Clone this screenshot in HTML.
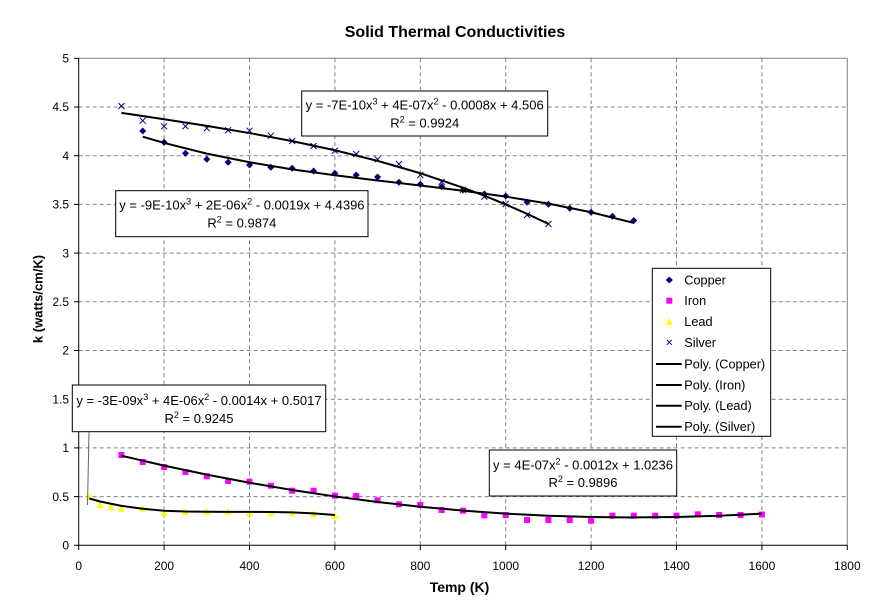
<!DOCTYPE html>
<html>
<head>
<meta charset="utf-8">
<style>
html,body{margin:0;padding:0;background:#fff;}
svg{display:block;}
text{font-family:"Liberation Sans",Arial,sans-serif;fill:#000;}
</style>
</head>
<body>
<svg width="888" height="609" viewBox="0 0 888 609" xmlns="http://www.w3.org/2000/svg">
<rect x="0" y="0" width="888" height="609" fill="#fff"/>
<!-- title -->
<text x="455" y="37" font-size="16" font-weight="bold" text-anchor="middle">Solid Thermal Conductivities</text>

<!-- gridlines -->
<g stroke="#808080" stroke-width="1" stroke-dasharray="4,3" fill="none">
<line x1="164.1" y1="58.3" x2="164.1" y2="545.3"/>
<line x1="249.5" y1="58.3" x2="249.5" y2="545.3"/>
<line x1="334.9" y1="58.3" x2="334.9" y2="545.3"/>
<line x1="420.3" y1="58.3" x2="420.3" y2="545.3"/>
<line x1="505.7" y1="58.3" x2="505.7" y2="545.3"/>
<line x1="591.1" y1="58.3" x2="591.1" y2="545.3"/>
<line x1="676.5" y1="58.3" x2="676.5" y2="545.3"/>
<line x1="761.9" y1="58.3" x2="761.9" y2="545.3"/>
<line x1="78.7" y1="496.6" x2="847.3" y2="496.6"/>
<line x1="78.7" y1="447.9" x2="847.3" y2="447.9"/>
<line x1="78.7" y1="399.2" x2="847.3" y2="399.2"/>
<line x1="78.7" y1="350.5" x2="847.3" y2="350.5"/>
<line x1="78.7" y1="301.8" x2="847.3" y2="301.8"/>
<line x1="78.7" y1="253.1" x2="847.3" y2="253.1"/>
<line x1="78.7" y1="204.4" x2="847.3" y2="204.4"/>
<line x1="78.7" y1="155.7" x2="847.3" y2="155.7"/>
<line x1="78.7" y1="107.0" x2="847.3" y2="107.0"/>
</g>
<!-- plot border -->
<line x1="78.7" y1="58.3" x2="847.3" y2="58.3" stroke="#808080" stroke-width="1"/>
<line x1="847.3" y1="58.3" x2="847.3" y2="545.3" stroke="#808080" stroke-width="1"/>
<!-- axes -->
<line x1="78.7" y1="58.3" x2="78.7" y2="545.3" stroke="#000" stroke-width="1"/>
<line x1="78.7" y1="545.3" x2="847.3" y2="545.3" stroke="#000" stroke-width="1"/>
<!-- ticks -->
<g stroke="#000" stroke-width="1">
<line x1="74" y1="545.3" x2="78.7" y2="545.3"/>
<line x1="74" y1="496.6" x2="78.7" y2="496.6"/>
<line x1="74" y1="447.9" x2="78.7" y2="447.9"/>
<line x1="74" y1="399.2" x2="78.7" y2="399.2"/>
<line x1="74" y1="350.5" x2="78.7" y2="350.5"/>
<line x1="74" y1="301.8" x2="78.7" y2="301.8"/>
<line x1="74" y1="253.1" x2="78.7" y2="253.1"/>
<line x1="74" y1="204.4" x2="78.7" y2="204.4"/>
<line x1="74" y1="155.7" x2="78.7" y2="155.7"/>
<line x1="74" y1="107.0" x2="78.7" y2="107.0"/>
<line x1="74" y1="58.3" x2="78.7" y2="58.3"/>
<line x1="78.7" y1="545.3" x2="78.7" y2="550"/>
<line x1="164.1" y1="545.3" x2="164.1" y2="550"/>
<line x1="249.5" y1="545.3" x2="249.5" y2="550"/>
<line x1="334.9" y1="545.3" x2="334.9" y2="550"/>
<line x1="420.3" y1="545.3" x2="420.3" y2="550"/>
<line x1="505.7" y1="545.3" x2="505.7" y2="550"/>
<line x1="591.1" y1="545.3" x2="591.1" y2="550"/>
<line x1="676.5" y1="545.3" x2="676.5" y2="550"/>
<line x1="761.9" y1="545.3" x2="761.9" y2="550"/>
<line x1="847.3" y1="545.3" x2="847.3" y2="550"/>
</g>
<!-- y tick labels -->
<g font-size="12" text-anchor="end">
<text x="69" y="549.5">0</text>
<text x="69" y="500.8">0.5</text>
<text x="69" y="452.1">1</text>
<text x="69" y="403.4">1.5</text>
<text x="69" y="354.7">2</text>
<text x="69" y="306">2.5</text>
<text x="69" y="257.3">3</text>
<text x="69" y="208.6">3.5</text>
<text x="69" y="159.9">4</text>
<text x="69" y="111.2">4.5</text>
<text x="69" y="62.5">5</text>
</g>
<!-- x tick labels -->
<g font-size="12" text-anchor="middle">
<text x="78.7" y="570">0</text>
<text x="164.1" y="570">200</text>
<text x="249.5" y="570">400</text>
<text x="334.9" y="570">600</text>
<text x="420.3" y="570">800</text>
<text x="505.7" y="570">1000</text>
<text x="591.1" y="570">1200</text>
<text x="676.5" y="570">1400</text>
<text x="761.9" y="570">1600</text>
<text x="847.3" y="570">1800</text>
</g>
<!-- axis titles -->
<text x="459.5" y="592" font-size="14" font-weight="bold" text-anchor="middle">Temp (K)</text>
<text transform="translate(42.5,299) rotate(-90)" font-size="13" font-weight="bold" text-anchor="middle">k (watts/cm/K)</text>

<!-- Copper markers -->
<g fill="#000080">
<path d="M142.75 127.5l3.5 3.5-3.5 3.5-3.5-3.5z"/>
<path d="M164.1 138.8l3.5 3.5-3.5 3.5-3.5-3.5z"/>
<path d="M185.45 149.8l3.5 3.5-3.5 3.5-3.5-3.5z"/>
<path d="M206.8 155.8l3.5 3.5-3.5 3.5-3.5-3.5z"/>
<path d="M228.15 158.8l3.5 3.5-3.5 3.5-3.5-3.5z"/>
<path d="M249.5 161.5l3.5 3.5-3.5 3.5-3.5-3.5z"/>
<path d="M270.85 163.8l3.5 3.5-3.5 3.5-3.5-3.5z"/>
<path d="M292.2 164.8l3.5 3.5-3.5 3.5-3.5-3.5z"/>
<path d="M313.55 167.5l3.5 3.5-3.5 3.5-3.5-3.5z"/>
<path d="M334.9 169.8l3.5 3.5-3.5 3.5-3.5-3.5z"/>
<path d="M356.25 171.5l3.5 3.5-3.5 3.5-3.5-3.5z"/>
<path d="M377.6 173.5l3.5 3.5-3.5 3.5-3.5-3.5z"/>
<path d="M398.95 178.8l3.5 3.5-3.5 3.5-3.5-3.5z"/>
<path d="M420.3 180.8l3.5 3.5-3.5 3.5-3.5-3.5z"/>
<path d="M441.65 183.2l3.5 3.5-3.5 3.5-3.5-3.5z"/>
<path d="M463 186.5l3.5 3.5-3.5 3.5-3.5-3.5z"/>
<path d="M484.35 190.5l3.5 3.5-3.5 3.5-3.5-3.5z"/>
<path d="M505.7 192.5l3.5 3.5-3.5 3.5-3.5-3.5z"/>
<path d="M527.05 198.8l3.5 3.5-3.5 3.5-3.5-3.5z"/>
<path d="M548.4 200.8l3.5 3.5-3.5 3.5-3.5-3.5z"/>
<path d="M569.75 204.8l3.5 3.5-3.5 3.5-3.5-3.5z"/>
<path d="M591.1 208.8l3.5 3.5-3.5 3.5-3.5-3.5z"/>
<path d="M612.45 212.8l3.5 3.5-3.5 3.5-3.5-3.5z"/>
<path d="M633.8 217l3.5 3.5-3.5 3.5-3.5-3.5z"/>
</g>
<!-- Silver markers -->
<g stroke="#000080" stroke-width="1" fill="none">
<path d="M118.4 103l6 6M124.4 103l-6 6"/>
<path d="M139.75 117.7l6 6M145.75 117.7l-6 6"/>
<path d="M161.1 123.3l6 6M167.1 123.3l-6 6"/>
<path d="M182.45 123.3l6 6M188.45 123.3l-6 6"/>
<path d="M203.8 125.3l6 6M209.8 125.3l-6 6"/>
<path d="M225.15 127.3l6 6M231.15 127.3l-6 6"/>
<path d="M246.5 127.7l6 6M252.5 127.7l-6 6"/>
<path d="M267.85 132.7l6 6M273.85 132.7l-6 6"/>
<path d="M289.2 138l6 6M295.2 138l-6 6"/>
<path d="M310.55 143l6 6M316.55 143l-6 6"/>
<path d="M331.9 147.7l6 6M337.9 147.7l-6 6"/>
<path d="M353.25 151l6 6M359.25 151l-6 6"/>
<path d="M374.6 156.3l6 6M380.6 156.3l-6 6"/>
<path d="M395.95 161l6 6M401.95 161l-6 6"/>
<path d="M417.3 172l6 6M423.3 172l-6 6"/>
<path d="M438.65 179l6 6M444.65 179l-6 6"/>
<path d="M460 186.8l6 6M466 186.8l-6 6"/>
<path d="M481.35 193.6l6 6M487.35 193.6l-6 6"/>
<path d="M502.7 201l6 6M508.7 201l-6 6"/>
<path d="M524.05 212l6 6M530.05 212l-6 6"/>
<path d="M545.4 221l6 6M551.4 221l-6 6"/>
</g>
<!-- Iron markers -->
<g fill="#FF00FF">
<rect x="118.4" y="452" width="6" height="6"/>
<rect x="139.75" y="459" width="6" height="6"/>
<rect x="161.1" y="464" width="6" height="6"/>
<rect x="182.45" y="469" width="6" height="6"/>
<rect x="203.8" y="473.3" width="6" height="6"/>
<rect x="225.15" y="478" width="6" height="6"/>
<rect x="246.5" y="478.7" width="6" height="6"/>
<rect x="267.85" y="482.7" width="6" height="6"/>
<rect x="289.2" y="487.7" width="6" height="6"/>
<rect x="310.55" y="487.7" width="6" height="6"/>
<rect x="331.9" y="492.7" width="6" height="6"/>
<rect x="353.25" y="493" width="6" height="6"/>
<rect x="374.6" y="497.3" width="6" height="6"/>
<rect x="395.95" y="501.3" width="6" height="6"/>
<rect x="417.3" y="502" width="6" height="6"/>
<rect x="438.65" y="507" width="6" height="6"/>
<rect x="460" y="507.7" width="6" height="6"/>
<rect x="481.35" y="512.3" width="6" height="6"/>
<rect x="502.7" y="512" width="6" height="6"/>
<rect x="524.05" y="517" width="6" height="6"/>
<rect x="545.4" y="517" width="6" height="6"/>
<rect x="566.75" y="517" width="6" height="6"/>
<rect x="588.1" y="517.7" width="6" height="6"/>
<rect x="609.45" y="512.7" width="6" height="6"/>
<rect x="630.8" y="512.7" width="6" height="6"/>
<rect x="652.15" y="512.7" width="6" height="6"/>
<rect x="673.5" y="512.7" width="6" height="6"/>
<rect x="694.85" y="511.3" width="6" height="6"/>
<rect x="716.2" y="512" width="6" height="6"/>
<rect x="737.55" y="512" width="6" height="6"/>
<rect x="758.9" y="511.5" width="6" height="6"/>
</g>
<!-- Lead markers -->
<g fill="#FFFF00">
<path d="M89.4 492.7l3.5 7h-7z"/>
<path d="M100.05 501l3.5 7h-7z"/>
<path d="M110.7 502.7l3.5 7h-7z"/>
<path d="M121.4 504.7l3.5 7h-7z"/>
<path d="M142.75 504.7l3.5 7h-7z"/>
<path d="M164.1 508.7l3.5 7h-7z"/>
<path d="M185.45 507.7l3.5 7h-7z"/>
<path d="M206.8 507.7l3.5 7h-7z"/>
<path d="M228.15 507.7l3.5 7h-7z"/>
<path d="M249.5 509l3.5 7h-7z"/>
<path d="M270.85 509.3l3.5 7h-7z"/>
<path d="M292.2 509.3l3.5 7h-7z"/>
<path d="M313.55 510.3l3.5 7h-7z"/>
<path d="M334.9 512l3.5 7h-7z"/>
</g>

<!-- trendlines -->
<g stroke="#000" stroke-width="2" fill="none" stroke-linejoin="round">
<polyline points="142.75,136.71 164.1,142.96 206.8,153.64 249.5,162.28 292.2,169.34 334.9,175.25 377.6,180.48 420.3,185.5 463,190.71 505.7,196.61 548.4,203.64 591.1,212.25 633.8,222.91"/>
<polyline points="121.4,112.84 164.1,119.25 206.8,125.9 249.5,133.07 292.2,141.09 334.9,150.26 377.6,160.86 420.3,173.23 463,187.65 484.35,195.73 505.7,204.44 527.05,213.81 548.4,223.88"/>
<polyline points="121.4,455.73 164.1,465.59 206.8,474.59 249.5,482.73 292.2,490.02 334.9,496.44 377.6,502.02 420.3,506.73 463,510.59 505.7,513.59 548.4,515.73 591.1,517.02 633.8,517.44 676.5,517.02 719.2,515.73 761.9,513.59"/>
<polyline points="89.4,498.5 100.05,501.5 121.4,505.85 142.75,508.8 164.1,510.7 185.45,511.5 206.8,511.8 228.15,511.9 249.5,511.9 270.85,512 292.2,512.4 313.55,513.4 334.9,515"/>
</g>

<!-- leader line for lead label -->
<line x1="89" y1="432" x2="87.5" y2="505" stroke="#666" stroke-width="1"/>

<!-- equation boxes -->
<g font-size="13" text-anchor="middle">
<rect x="301.7" y="91" width="246" height="45" fill="#fff" stroke="#000" stroke-width="1"/>
<text x="424.7" y="109.5">y = -7E-10x<tspan dy="-5" font-size="9">3</tspan><tspan dy="5"> + 4E-07x</tspan><tspan dy="-5" font-size="9">2</tspan><tspan dy="5"> - 0.0008x + 4.506</tspan></text>
<text x="424.7" y="127.5">R<tspan dy="-5" font-size="9">2</tspan><tspan dy="5"> = 0.9924</tspan></text>

<rect x="115.7" y="190.7" width="252.3" height="46" fill="#fff" stroke="#000" stroke-width="1"/>
<text x="241.9" y="209.5">y = -9E-10x<tspan dy="-5" font-size="9">3</tspan><tspan dy="5"> + 2E-06x</tspan><tspan dy="-5" font-size="9">2</tspan><tspan dy="5"> - 0.0019x + 4.4396</tspan></text>
<text x="241.9" y="227.5">R<tspan dy="-5" font-size="9">2</tspan><tspan dy="5"> = 0.9874</tspan></text>

<rect x="72.3" y="385" width="253.4" height="46.7" fill="#fff" stroke="#000" stroke-width="1"/>
<text x="199" y="405">y = -3E-09x<tspan dy="-5" font-size="9">3</tspan><tspan dy="5"> + 4E-06x</tspan><tspan dy="-5" font-size="9">2</tspan><tspan dy="5"> - 0.0014x + 0.5017</tspan></text>
<text x="199" y="423">R<tspan dy="-5" font-size="9">2</tspan><tspan dy="5"> = 0.9245</tspan></text>

<rect x="489.3" y="450" width="187.4" height="46" fill="#fff" stroke="#000" stroke-width="1"/>
<text x="583" y="469.5">y = 4E-07x<tspan dy="-5" font-size="9">2</tspan><tspan dy="5"> - 0.0012x + 1.0236</tspan></text>
<text x="583" y="487">R<tspan dy="-5" font-size="9">2</tspan><tspan dy="5"> = 0.9896</tspan></text>
</g>

<!-- legend -->
<rect x="652.3" y="268.3" width="118.4" height="168" fill="#fff" stroke="#000" stroke-width="1"/>
<path d="M669.3 276.5l3.5 3.5-3.5 3.5-3.5-3.5z" fill="#000080"/>
<rect x="666.3" y="297.7" width="6" height="6" fill="#FF00FF"/>
<path d="M669.3 318l3.5 7h-7z" fill="#FFFF00"/>
<path d="M666.8 339.8l5 5M671.8 339.8l-5 5" stroke="#000080" stroke-width="1"/>
<g stroke="#000" stroke-width="2">
<line x1="656" y1="364" x2="681.7" y2="364"/>
<line x1="656" y1="385" x2="681.7" y2="385"/>
<line x1="656" y1="405.7" x2="681.7" y2="405.7"/>
<line x1="656" y1="426.7" x2="681.7" y2="426.7"/>
</g>
<g font-size="12.7">
<text x="684.3" y="284.5">Copper</text>
<text x="684.3" y="305.2">Iron</text>
<text x="684.3" y="326.2">Lead</text>
<text x="684.3" y="346.8">Silver</text>
<text x="684.3" y="368.5">Poly. (Copper)</text>
<text x="684.3" y="389.5">Poly. (Iron)</text>
<text x="684.3" y="410.2">Poly. (Lead)</text>
<text x="684.3" y="431.2">Poly. (Silver)</text>
</g>
</svg>
</body>
</html>
